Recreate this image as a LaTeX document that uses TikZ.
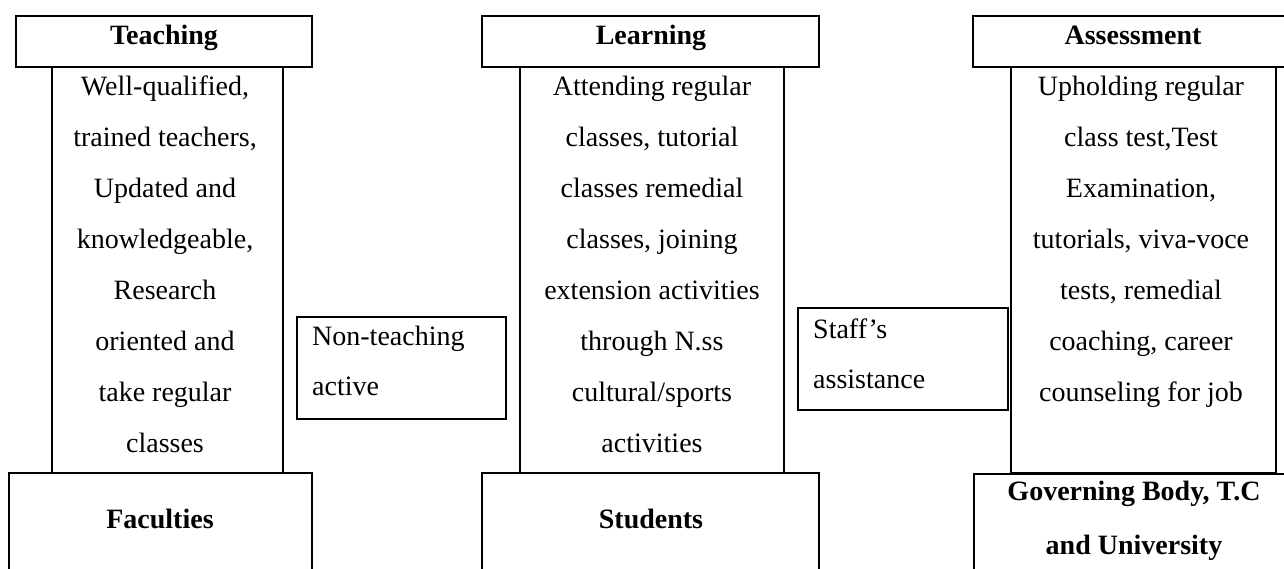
\documentclass[tikz,border=0pt]{standalone}
\usepackage{fontspec}
\setmainfont{Liberation Serif}
\newcommand{\firstln}{\rule{0pt}{22pt}}
\tikzset{
  box/.style={draw, line width=1.6pt, inner sep=0pt, outer sep=0pt, anchor=north west},
  bodytxt/.style={font=\fontsize{28}{51}\selectfont, inner sep=0pt, align=center, anchor=north},
  sidetxt/.style={font=\fontsize{28}{50}\selectfont, inner sep=0pt, align=left, anchor=north west},
  headtxt/.style={font=\fontsize{28}{34}\selectfont\bfseries, inner sep=0pt, anchor=base},
  govtxt/.style={font=\fontsize{28}{54}\selectfont\bfseries, inner sep=0pt, align=center, anchor=north}
}
\begin{document}
\begin{tikzpicture}[x=1pt,y=-1pt]
\useasboundingbox (0,0) rectangle (1284,569);
\clip (0,0) rectangle (1284,569);
% Teaching column
\node[box, minimum width=296pt, minimum height=51pt] (th) at (16,16) {};
\node[box, minimum width=231pt, minimum height=406pt] (tb) at (52,67) {};
\node[box, minimum width=303pt, minimum height=140pt] (fac) at (9,473) {};
\node[headtxt] (tht) at (164,45) {Teaching};
\node[bodytxt] (tbt) at (165,73) {\firstln Well-qualified,\\trained teachers,\\Updated and\\knowledgeable,\\Research\\oriented and\\take regular\\classes};
\node[headtxt] (ftt) at (160,528) {Faculties};
% Learning column
\node[box, minimum width=337pt, minimum height=51pt] (lh) at (482,16) {};
\node[box, minimum width=264pt, minimum height=406pt] (lb) at (520,67) {};
\node[box, minimum width=337pt, minimum height=140pt] (stu) at (482,473) {};
\node[headtxt] (lht) at (651,45) {Learning};
\node[bodytxt] (lbt) at (652,73) {\firstln Attending regular\\classes, tutorial\\classes remedial\\classes, joining\\extension activities\\through N.ss\\cultural/sports\\activities};
\node[headtxt] (stt) at (651,528) {Students};
% Assessment column
\node[box, minimum width=319pt, minimum height=51pt] (ah) at (973,16) {};
\node[box, minimum width=265pt, minimum height=406pt] (ab) at (1011,67) {};
\node[box, minimum width=320pt, minimum height=140pt] (gov) at (974,474) {};
\node[headtxt] (aht) at (1133,45) {Assessment};
\node[bodytxt] (abt) at (1141,73) {\firstln Upholding regular\\class test,Test\\Examination,\\tutorials, viva-voce\\tests, remedial\\coaching, career\\counseling for job};
\node[govtxt] (gvt) at (1134,478) {\firstln Governing Body, T.C\\and University};
% side boxes
\node[box, minimum width=209pt, minimum height=102pt] (nt) at (297,317) {};
\node[sidetxt] (ntt) at (312,323) {\firstln Non-teaching\\active};
\node[box, minimum width=210pt, minimum height=102pt] (sa) at (798,308) {};
\node[sidetxt] (sat) at (813,316) {\firstln Staff’s\\assistance};
\end{tikzpicture}
\end{document}
